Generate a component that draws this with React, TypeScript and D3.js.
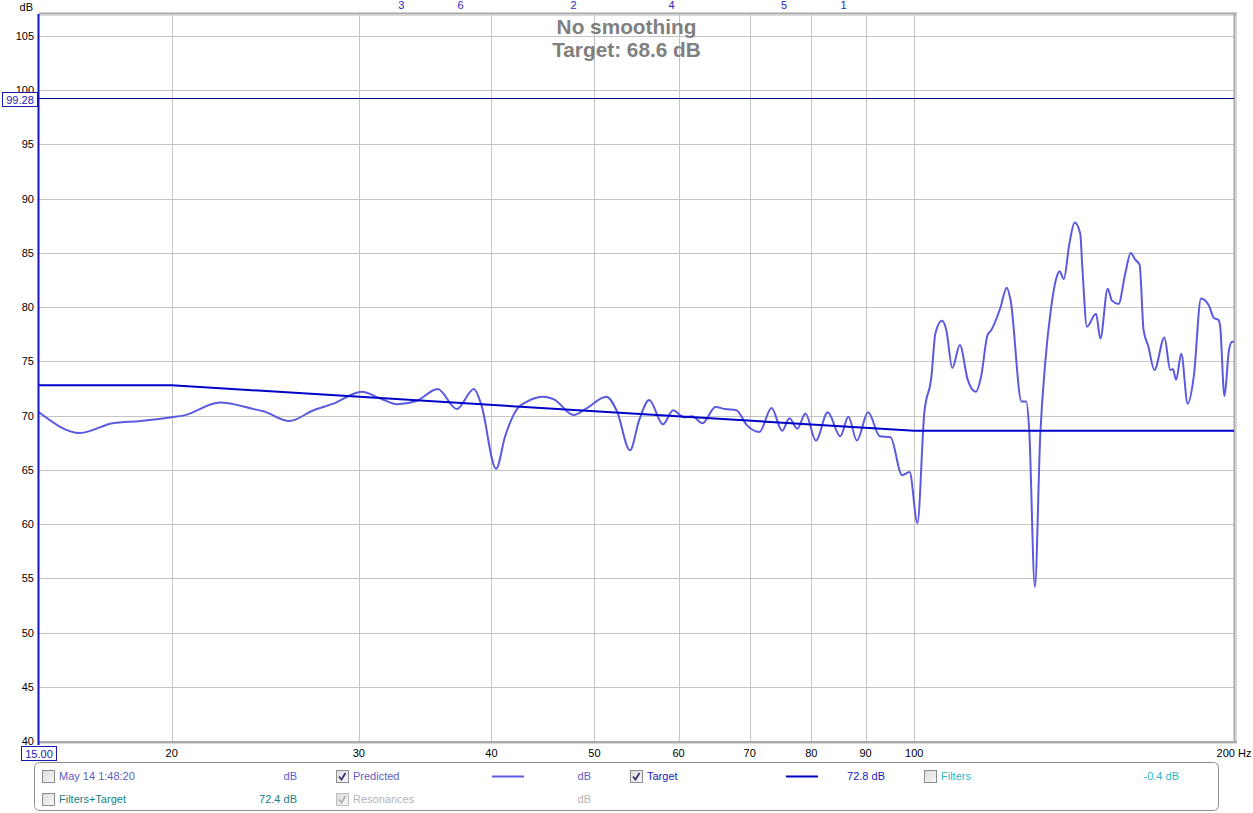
import React from 'react';
import * as d3 from 'd3';

// ---- data ----
const predictedHz = [
  15, 16.4, 17.6, 18.7, 20.0, 20.5, 22.2, 23.9, 24.4, 25.8, 27.2, 28.4, 30.2, 31.4, 32.6, 34.0,
  35.6, 37.1, 38.5, 39.1, 40.4, 41.2, 42.2, 43.2, 44.8, 45.8, 47.8, 49.2, 51.3, 52.5, 54.0, 55.1,
  56.3, 58.0, 59.3, 60.7, 61.8, 63.2, 65.0, 66.4, 68.0, 69.6, 71.5, 73.4, 75.1, 76.3, 77.6, 79.0,
  80.8, 82.9, 85.2, 86.7, 88.3, 90.5, 92.8, 95.0, 97.4, 99.0, 100.7, 102.2, 103.8, 104.7, 106.2,
  107.2, 108.6, 110.4, 112.3, 114.3, 115.6, 117.2, 118.2, 120.5, 122.2, 123.2, 126.2, 127.5, 128.3,
  129.9, 131.4, 132.9, 134.4, 136.2, 137.0, 138.3, 140.0, 141.6, 143.3, 144.0, 145.4, 148.3, 149.7,
  152.1, 153.5, 155.7, 158.0, 159.9, 161.4, 163.0, 164.4, 166.1, 168.3, 172.0, 174.2, 175.2, 176.4,
  178.4, 180.9, 183.3, 186.2, 189.3, 191.5, 193.5, 194.1, 195.9, 197.8, 199.2, 200,
];
const predictedDb = [
  70.3, 68.4, 69.3, 69.5, 69.85, 70.0, 71.2, 70.6, 70.4, 69.5, 70.5, 71.1, 72.2, 71.6, 71.05, 71.35,
  72.45, 70.6, 72.45, 71.1, 65.1, 68.1, 70.5, 71.3, 71.75, 71.5, 70.05, 70.7, 71.75, 70.4, 66.8, 69.6,
  71.45, 69.2, 70.5, 69.85, 69.95, 69.3, 70.8, 70.6, 70.5, 69.1, 68.5, 70.7, 68.6, 69.75, 68.8, 70.2,
  67.7, 70.3, 68.1, 69.9, 67.7, 70.3, 68.1, 68.0, 64.5, 64.8, 60.1, 70.2, 73.6, 77.6, 78.75,
  77.9, 74.4, 76.5, 73.3, 72.2, 73.6, 77.4, 77.9, 79.9, 81.8, 80.7, 71.3, 71.3, 68.7,
  54.2, 68.1, 75.1, 79.6, 82.8, 83.3, 82.6, 85.9, 87.8, 86.8, 83.5, 78.2, 79.4, 77.1,
  81.7, 80.6, 80.3, 83.1, 85.0, 84.4, 83.9, 77.9, 76.4, 74.2, 77.2, 74.2, 74.3, 73.3,
  75.7, 71.1, 73.6, 80.8, 80.2, 79.0, 78.8, 78.2, 71.8, 76.0, 76.8, 76.8,
];
const targetHz = [15, 20, 100, 200];
const targetDb = [72.8, 72.8, 68.6, 68.6];
const markerHz = [32.9, 37.4, 47.8, 59.1, 75.4, 85.8];
const markerLabels = ['3', '6', '2', '4', '5', '1'];
const xGridHz = [20, 30, 40, 50, 60, 70, 80, 90, 100];
const xTickLabels = ['20', '30', '40', '50', '60', '70', '80', '90', '100'];
const yTicks = [40, 45, 50, 55, 60, 65, 70, 75, 80, 85, 90, 95, 100, 105];
const cursorDb = 99.28;
const titleLines = ['No smoothing', 'Target: 68.6 dB'];

// ---- layout ----
const W = 1253;
const H = 813;
const L = 39;
const R = 1234;
const T = 14;
const B = 741;
const FONT = '"Liberation Sans", Arial, sans-serif';

const PRED_COLOR = '#5a5ae0';
const TARGET_COLOR = '#0000c8';

function Checkbox({ x, y, checked, disabled }: { x: number; y: number; checked?: boolean; disabled?: boolean }) {
  return (
    <g>
      <rect x={x + 0.5} y={y + 0.5} width={12} height={12} fill="url(#cbgrad)" stroke={disabled ? '#bdbdbd' : '#8c8c8c'} />
      {checked && (
        <path
          d={`M${x + 3},${y + 6.5} L${x + 5.5},${y + 9.5} L${x + 9.5},${y + 3}`}
          fill="none"
          stroke={disabled ? '#b0b0b0' : '#30306a'}
          strokeWidth={1.7}
        />
      )}
    </g>
  );
}

export default function App() {
  const x = d3.scaleLog().domain([15, 200]).range([L, R]);
  const y = d3.scaleLinear().domain([40, 105]).range([B, 36]);

  const pts: [number, number][] = predictedHz.map((f, i) => [f, predictedDb[i]]);
  const tpts: [number, number][] = targetHz.map((f, i) => [f, targetDb[i]]);

  const predLine = d3
    .line<[number, number]>()
    .x((d) => x(d[0]))
    .y((d) => y(d[1]))
    .curve(d3.curveMonotoneX)(pts) as string;
  const targetLine = d3
    .line<[number, number]>()
    .x((d) => x(d[0]))
    .y((d) => y(d[1]))(tpts) as string;

  const legendRow1 = 776;
  const legendRow2 = 799;

  return (
    <svg
      width={W}
      height={H}
      style={{ position: 'absolute', left: 0, top: 0, background: '#fff' }}
      fontFamily={FONT}
    >
      <defs>
        <clipPath id="plotclip">
          <rect x={L} y={T} width={R - L} height={B - T} />
        </clipPath>
        <clipPath id="label100clip">
          <rect x={0} y={80} width={38} height={12.5} />
        </clipPath>
        <linearGradient id="cbgrad" x1="0" y1="0" x2="1" y2="1">
          <stop offset="0" stopColor="#dcdcdc" />
          <stop offset="1" stopColor="#f8f8f8" />
        </linearGradient>
      </defs>
      <rect x={0} y={0} width={W} height={H} fill="#fff" />

      {/* grid */}
      {yTicks.map((v) => (
        <line key={'h' + v} x1={L} x2={R} y1={Math.round(y(v)) + 0.5} y2={Math.round(y(v)) + 0.5} stroke="#c4c4c4" strokeWidth={1} />
      ))}
      {xGridHz.map((f) => (
        <line key={'v' + f} x1={Math.round(x(f)) + 0.5} x2={Math.round(x(f)) + 0.5} y1={T} y2={B} stroke="#c4c4c4" strokeWidth={1} />
      ))}

      {/* frame */}
      <line x1={L} x2={R + 3} y1={13.5} y2={13.5} stroke="#a8a8a8" strokeWidth={2} />
      <line x1={L} x2={R + 3} y1={15.5} y2={15.5} stroke="#dadada" strokeWidth={1} />
      <line x1={R + 0.5} x2={R + 0.5} y1={T} y2={B + 2} stroke="#a8a8a8" strokeWidth={2} />
      <line x1={R + 2.5} x2={R + 2.5} y1={T} y2={B + 3} stroke="#dadada" strokeWidth={1} />
      <line x1={L} x2={R + 3} y1={B + 1} y2={B + 1} stroke="#a8a8a8" strokeWidth={2} />
      <line x1={L} x2={R + 3} y1={B + 2.5} y2={B + 2.5} stroke="#dadada" strokeWidth={1} />

      {/* cursor line */}
      <line x1={L} x2={R} y1={Math.round(y(cursorDb)) + 0.5} y2={Math.round(y(cursorDb)) + 0.5} stroke="#000080" strokeWidth={1} />

      {/* curves */}
      <g clipPath="url(#plotclip)">
        <path d={predLine} fill="none" stroke={PRED_COLOR} strokeWidth={2} strokeLinejoin="round" />
        <path d={targetLine} fill="none" stroke={TARGET_COLOR} strokeWidth={2} />
      </g>

      {/* left axis line */}
      <line x1={L - 0.5} x2={L - 0.5} y1={T} y2={B + 4} stroke="#1414c8" strokeWidth={2} />

      {/* y labels */}
      <text x={33} y={7} fontSize={11} textAnchor="end" dominantBaseline="central" fill="#000">dB</text>
      {yTicks.map((v) => (
        <text
          key={'yl' + v}
          x={34}
          y={y(v)}
          fontSize={11}
          textAnchor="end"
          dominantBaseline="central"
          fill="#000"
          clipPath={v === 100 ? 'url(#label100clip)' : undefined}
        >
          {v}
        </text>
      ))}

      {/* cursor box */}
      <rect x={2.5} y={92.5} width={35} height={14} fill="#fff" stroke="#1a1ab0" strokeWidth={1} />
      <text x={20} y={99.5} fontSize={11} textAnchor="middle" dominantBaseline="central" fill="#1a1ab0">
        {cursorDb.toFixed(2)}
      </text>

      {/* x labels */}
      {xGridHz.map((f, i) => (
        <text key={'xl' + f} x={x(f)} y={753} fontSize={11} textAnchor="middle" dominantBaseline="central" fill="#000">
          {xTickLabels[i]}
        </text>
      ))}
      <text x={x(200)} y={753} fontSize={11} textAnchor="middle" dominantBaseline="central" fill="#000">200 Hz</text>
      <rect x={21.5} y={746.5} width={35} height={14} fill="#fff" stroke="#1a1ab0" strokeWidth={1} />
      <text x={39} y={753.5} fontSize={11} textAnchor="middle" dominantBaseline="central" fill="#1a1ab0">15.00</text>

      {/* filter markers */}
      {markerHz.map((f, i) => (
        <text key={'m' + i} x={x(f)} y={5} fontSize={11} textAnchor="middle" dominantBaseline="central" fill="#2828c0">
          {markerLabels[i]}
        </text>
      ))}

      {/* title */}
      <text x={W / 2} y={26} fontSize={20.8} fontWeight="bold" textAnchor="middle" dominantBaseline="central" fill="#808080">
        {titleLines[0]}
      </text>
      <text x={W / 2} y={49} fontSize={20.8} fontWeight="bold" textAnchor="middle" dominantBaseline="central" fill="#808080">
        {titleLines[1]}
      </text>

      {/* legend */}
      <rect x={34.5} y={762.5} width={1184} height={48} rx={5} fill="#fff" stroke="#8c8c8c" strokeWidth={1} />
      <g fontSize={11} dominantBaseline="central">
        <Checkbox x={42} y={legendRow1 - 6} />
        <text x={59} y={legendRow1} fill="#5c5cc8">May 14 1:48:20</text>
        <text x={297} y={legendRow1} textAnchor="end" fill="#5c5cc8">dB</text>
        <Checkbox x={336} y={legendRow1 - 6} checked />
        <text x={353} y={legendRow1} fill="#5c5cc8">Predicted</text>
        <line x1={492} x2={524} y1={legendRow1 + 0.5} y2={legendRow1 + 0.5} stroke={PRED_COLOR} strokeWidth={2} />
        <text x={591} y={legendRow1} textAnchor="end" fill="#5c5cc8">dB</text>
        <Checkbox x={630} y={legendRow1 - 6} checked />
        <text x={647} y={legendRow1} fill="#1818c0">Target</text>
        <line x1={786} x2={818} y1={legendRow1 + 0.5} y2={legendRow1 + 0.5} stroke={TARGET_COLOR} strokeWidth={2} />
        <text x={885} y={legendRow1} textAnchor="end" fill="#1818c0">72.8 dB</text>
        <Checkbox x={924} y={legendRow1 - 6} />
        <text x={941} y={legendRow1} fill="#28b8c8">Filters</text>
        <text x={1179} y={legendRow1} textAnchor="end" fill="#28b8c8">-0.4 dB</text>

        <Checkbox x={42} y={legendRow2 - 6} />
        <text x={59} y={legendRow2} fill="#1a7f80">Filters+Target</text>
        <text x={297} y={legendRow2} textAnchor="end" fill="#1a7f80">72.4 dB</text>
        <Checkbox x={336} y={legendRow2 - 6} checked disabled />
        <text x={353} y={legendRow2} fill="#b4b4b4">Resonances</text>
        <text x={591} y={legendRow2} textAnchor="end" fill="#b4b4b4">dB</text>
      </g>
    </svg>
  );
}
